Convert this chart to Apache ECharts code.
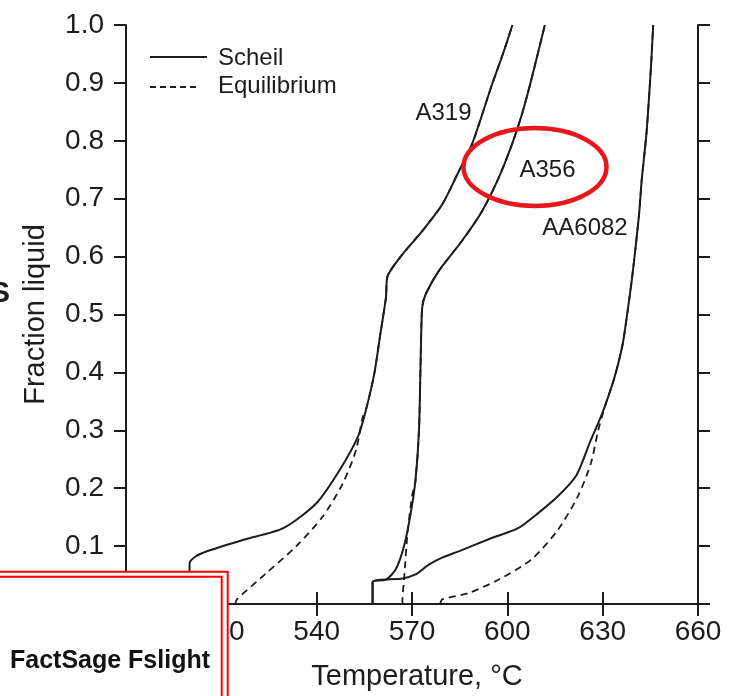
<!DOCTYPE html>
<html>
<head>
<meta charset="utf-8">
<title>Fraction liquid</title>
<script src="https://cdn.jsdelivr.net/npm/echarts@6/dist/echarts.min.js"></script>
<style>
    html, body { margin: 0; padding: 0; background: #fff; }
    #chart { width: 731px; height: 696px; }
</style>
</head>
<body>
<div id="chart"></div>
<script>
// temperature (°C), fraction liquid
var a319Scheil = [[500.0, 0], [500.0, 0.070], [501.9, 0.082], [505.5, 0.091], [517, 0.111], [529.5, 0.131],
    [539.9, 0.174], [547.2, 0.231], [553, 0.289], [555.5, 0.335], [558.1, 0.397], [560.2, 0.472],
    [561.8, 0.529], [562.3, 0.566], [567, 0.604], [573.2, 0.644], [579.5, 0.690], [584.7, 0.747],
    [588.8, 0.793], [592, 0.844], [595.1, 0.896], [598.8, 0.953], [601.6, 1.0]];
var a319Equil = [[514.4, 0], [514.9, 0.008], [524.3, 0.054], [533.6, 0.100], [541.9, 0.151], [548.2, 0.208],
    [552.4, 0.266], [554.5, 0.323], [555.5, 0.335], [558.1, 0.397], [560.2, 0.472], [561.8, 0.529],
    [562.3, 0.566], [567, 0.604], [573.2, 0.644], [579.5, 0.690], [584.7, 0.747], [588.8, 0.793],
    [592, 0.844], [595.1, 0.896], [598.8, 0.953], [601.6, 1.0]];
var a356Scheil = [[557.6, 0], [557.6, 0.038], [561.8, 0.042], [564.9, 0.060], [567.5, 0.100], [569.6, 0.157],
    [571.1, 0.214], [572.2, 0.300], [572.7, 0.415], [573.2, 0.512], [574.3, 0.535], [578.4, 0.575],
    [585.7, 0.627], [592, 0.678], [597.2, 0.735], [601.4, 0.793], [604.5, 0.844], [607.1, 0.896],
    [609.7, 0.953], [611.8, 1.0]];
var a356Equil = [[567, 0], [567, 0.008], [567.5, 0.042], [568.5, 0.117], [570, 0.186], [571.1, 0.214],
    [572.2, 0.300], [572.7, 0.415], [573.2, 0.512], [574.3, 0.535], [578.4, 0.575], [585.7, 0.627],
    [592, 0.678], [597.2, 0.735], [601.4, 0.793], [604.5, 0.844], [607.1, 0.896], [609.7, 0.953], [611.8, 1.0]];
var aa6082Scheil = [[557.6, 0], [557.6, 0.038], [567, 0.044], [571.1, 0.051], [575.3, 0.068], [579.5, 0.080],
    [584.7, 0.091], [595.1, 0.114], [603.4, 0.131], [609.7, 0.157], [615.9, 0.186], [621.7, 0.222],
    [626.1, 0.281], [629.2, 0.320], [630.8, 0.343], [633.6, 0.389], [636.2, 0.446], [637.8, 0.504],
    [639.2, 0.561], [640.4, 0.618], [641.5, 0.676], [642.3, 0.733], [643.8, 0.814], [645.2, 0.928], [645.9, 1.0]];
var aa6082Equil = [[578.9, 0], [579.5, 0.008], [587.8, 0.019], [597.2, 0.042], [607.6, 0.077], [615.9, 0.128],
    [622.2, 0.186], [626.3, 0.243], [628.6, 0.300], [630.8, 0.343], [633.6, 0.389], [636.2, 0.446],
    [637.8, 0.504], [639.2, 0.561], [640.4, 0.618], [641.5, 0.676], [642.3, 0.733], [643.8, 0.814],
    [645.2, 0.928], [645.9, 1.0]];

var alloyNames = ['A319', 'A356', 'AA6082'];
var legendNames = ['Scheil', 'Equilibrium'];
var tableText = 'FactSage Fslight';

var FONT = "'Liberation Sans', Arial, sans-serif";
var INK = '#1c1c1c';

const fractionChart = {
    init: function () {
        this.chart = echarts.init(document.getElementById('chart'), null, { renderer: 'canvas' });
        this.render();
    },
    lineSeries: function (name, data, dashed) {
        return {
            name: name,
            type: 'line',
            data: data,
            symbol: 'none',
            smooth: 0.25,
            z: dashed ? 2 : 3,
            lineStyle: {
                color: INK,
                width: dashed ? 1.8 : 2,
                type: dashed ? [7, 5] : 'solid'
            }
        };
    },
    render: function () {
        var _this = this;
        var frame = { show: true, lineStyle: { color: INK, width: 2 } };
        var tick = { show: true, inside: false, length: 12, lineStyle: { color: INK, width: 2 } };

        var option = {
            animation: false,
            backgroundColor: '#fff',
            grid: { left: 126, right: 33, top: 25, bottom: 90 },
            xAxis: [{
                type: 'value', position: 'bottom', min: 480, max: 660, interval: 30,
                axisLine: frame, axisTick: tick, splitLine: { show: false },
                axisLabel: { fontSize: 28, margin: 14, color: INK, fontFamily: FONT },
                name: 'Temperature, °C', nameLocation: 'middle', nameGap: 58,
                nameTextStyle: { fontSize: 29, color: INK, fontFamily: FONT, padding: [0, 0, 0, 10] }
            }, {
                type: 'value', position: 'top', min: 480, max: 660, interval: 30,
                axisLine: frame, axisTick: tick, splitLine: { show: false },
                axisLabel: { show: false }
            }],
            yAxis: [{
                type: 'value', position: 'left', min: 0, max: 1, interval: 0.1,
                axisLine: frame, axisTick: tick, splitLine: { show: false },
                axisLabel: {
                    fontSize: 28, margin: 22, color: INK, fontFamily: FONT,
                    formatter: function (v) { return v.toFixed(1); }
                },
                name: 'Fraction liquid', nameLocation: 'middle', nameGap: 76, nameRotate: 90,
                nameTextStyle: { fontSize: 29, color: INK, fontFamily: FONT }
            }, {
                type: 'value', position: 'right', min: 0, max: 1, interval: 0.1,
                axisLine: frame, axisTick: tick, splitLine: { show: false },
                axisLabel: { show: false }
            }],
            series: [
                _this.lineSeries('A319 Equilibrium', a319Equil, true),
                _this.lineSeries('A356 Equilibrium', a356Equil, true),
                _this.lineSeries('AA6082 Equilibrium', aa6082Equil, true),
                _this.lineSeries('A319 Scheil', a319Scheil, false),
                _this.lineSeries('A356 Scheil', a356Scheil, false),
                _this.lineSeries('AA6082 Scheil', aa6082Scheil, false)
            ],
            graphic: _this.annotations()
        };
        _this.chart.setOption(option);
    },
    annotations: function () {
        var txt = function (x, y, text, size, extra) {
            var style = { x: x, y: y, text: text, fill: INK, font: size + 'px ' + FONT, verticalAlign: 'middle', align: 'left' };
            for (var k in extra) style[k] = extra[k];
            return { type: 'text', z: 100, style: style };
        };
        var line = function (x1, y1, x2, y2, color, width, dash) {
            return {
                type: 'line', z: 101,
                shape: { x1: x1, y1: y1, x2: x2, y2: y2 },
                style: { stroke: color, lineWidth: width, lineDash: dash || null }
            };
        };
        return [
            // legend
            line(150, 57, 207, 57, INK, 2),
            txt(218, 58, legendNames[0], 24),
            line(150, 87, 198, 87, INK, 1.8, [6, 4]),
            txt(218, 86, legendNames[1], 24),
            // curve labels
            txt(443.5, 113, alloyNames[0], 24, { align: 'center' }),
            txt(547.5, 170, alloyNames[1], 24, { align: 'center' }),
            txt(585, 228, alloyNames[2], 24, { align: 'center' }),
            // red ellipse
            {
                type: 'ellipse', z: 102,
                shape: { cx: 535, cy: 167, rx: 71.5, ry: 39 },
                style: { fill: 'none', stroke: '#e8161d', lineWidth: 4.5 }
            },
            // cut off letter at the left edge
            txt(-10, 294, 'S', 30, { font: 'bold 30px ' + FONT }),
            // table overlay
            { type: 'rect', z: 110, shape: { x: -10, y: 571, width: 238, height: 140 }, style: { fill: '#fff' } },
            { type: 'rect', z: 111, shape: { x: -10, y: 571.7, width: 237.7, height: 160 }, style: { fill: 'none', stroke: '#ff0000', lineWidth: 2 } },
            { type: 'rect', z: 111, shape: { x: -10, y: 576.7, width: 231.7, height: 160 }, style: { fill: 'none', stroke: '#ff0000', lineWidth: 2 } },
            line(2.5, 577, 2.5, 700, '#333', 1.5),
            line(2.5, 619.5, 221, 619.5, '#333', 1.5),
            line(2.5, 690, 221, 690, '#333', 1.5),
            {
                type: 'text', z: 112,
                style: { x: 110, y: 661, text: tableText, fill: '#111', font: 'bold 25px ' + FONT, align: 'center', verticalAlign: 'middle' }
            }
        ];
    }
};

fractionChart.init();
</script>
</body>
</html>
